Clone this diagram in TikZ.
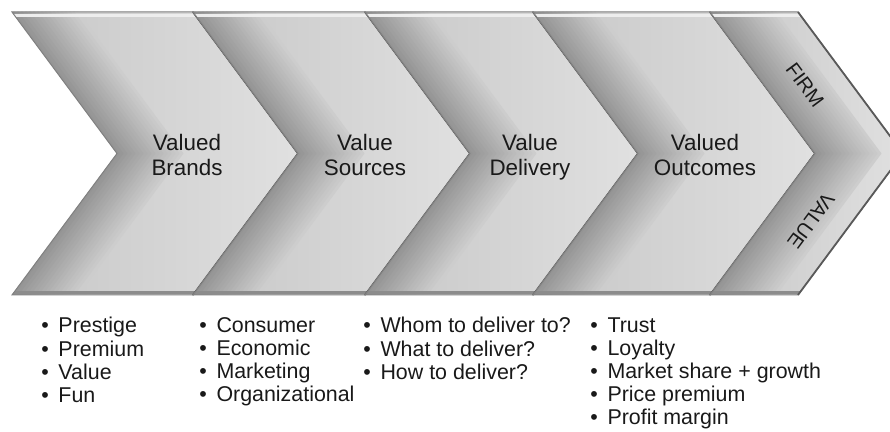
\documentclass[tikz,border=0pt]{standalone}
\usepackage{fontspec}
\setmainfont{Liberation Sans}
\usetikzlibrary{positioning}
\newcommand{\bul}{•\hspace{0.45em}}
\tikzstyle{heading} = [align=center, text=black!90, text depth=2.5pt, font=\fontsize{11.2}{12.5}\selectfont]
\tikzstyle{rim} = [text=black!90, font=\fontsize{10}{12}\selectfont]
\tikzstyle{bullets} = [anchor=north west, inner sep=0pt, align=left, text=black!90, font=\fontsize{10.7}{11.6}\selectfont]

\begin{document}
\begin{tikzpicture}[x=0.5pt, y=0.5pt]
\useasboundingbox (0,0) rectangle (890,432);
\clip (0,0) rectangle (890,432);
% Chevrons
\foreach \l/\r in {12/193, 193/365, 365/533, 533/710, 710/798} {
  \begin{scope}
    \clip (\l,420) -- (\r,420) -- (\r+105,278.5) -- (\r,137) -- (\l,137) -- (\l+105,278.5) -- cycle;
    \shade[left color=black!22, right color=black!12] (\l,137) rectangle (\r+105,420);
    \foreach \k in {16,...,0} {
      \pgfmathsetmacro\tone{42-1.4*\k}
      \draw[black!\tone, line width=2pt] (\l+4*\k-10,433.5) -- (\l+4*\k+105,278.5) -- (\l+4*\k-10,123.5);
    }
    \draw[black!7, line width=1.5pt] (\l,416.5) -- (\r+105,416.5);
    \draw[black!45, line width=1.5pt] (\l,139.5) -- (\r+105,139.5);
  \end{scope}
  \draw[black!50, line width=0.5pt] (\l,420) -- (\r,420) -- (\r+105,278.5) -- (\r,137) -- (\l,137) -- (\l+105,278.5) -- cycle;
  \draw[black!65, line width=0.9pt] (\r,420) -- (\r+105,278.5) -- (\r,137);
}

% Labels
\node (brands) [heading] at (187,275) {Valued\\Brands};
\node (sources) [heading] at (365,275) {Value\\Sources};
\node (delivery) [heading] at (530,275) {Value\\Delivery};
\node (outcomes) [heading] at (705,275) {Valued\\Outcomes};
\node (firm) [rim, rotate=-53.4] at (805,347) {FIRM};
\node (value) [rim, rotate=233.4] at (811,211) {VALUE};

% Lists
\node (brandlist) [bullets] at (41,115) {\bul Prestige\\\bul Premium\\\bul Value\\\bul Fun};
\node (sourcelist) [bullets] at (199,115) {\bul Consumer\\\bul Economic\\\bul Marketing\\\bul Organizational};
\node (deliverylist) [bullets] at (363,115) {\bul Whom to deliver to?\\\bul What to deliver?\\\bul How to deliver?};
\node (outcomelist) [bullets] at (590,115) {\bul Trust\\\bul Loyalty\\\bul Market share + growth\\\bul Price premium\\\bul Profit margin};
\end{tikzpicture}
\end{document}
